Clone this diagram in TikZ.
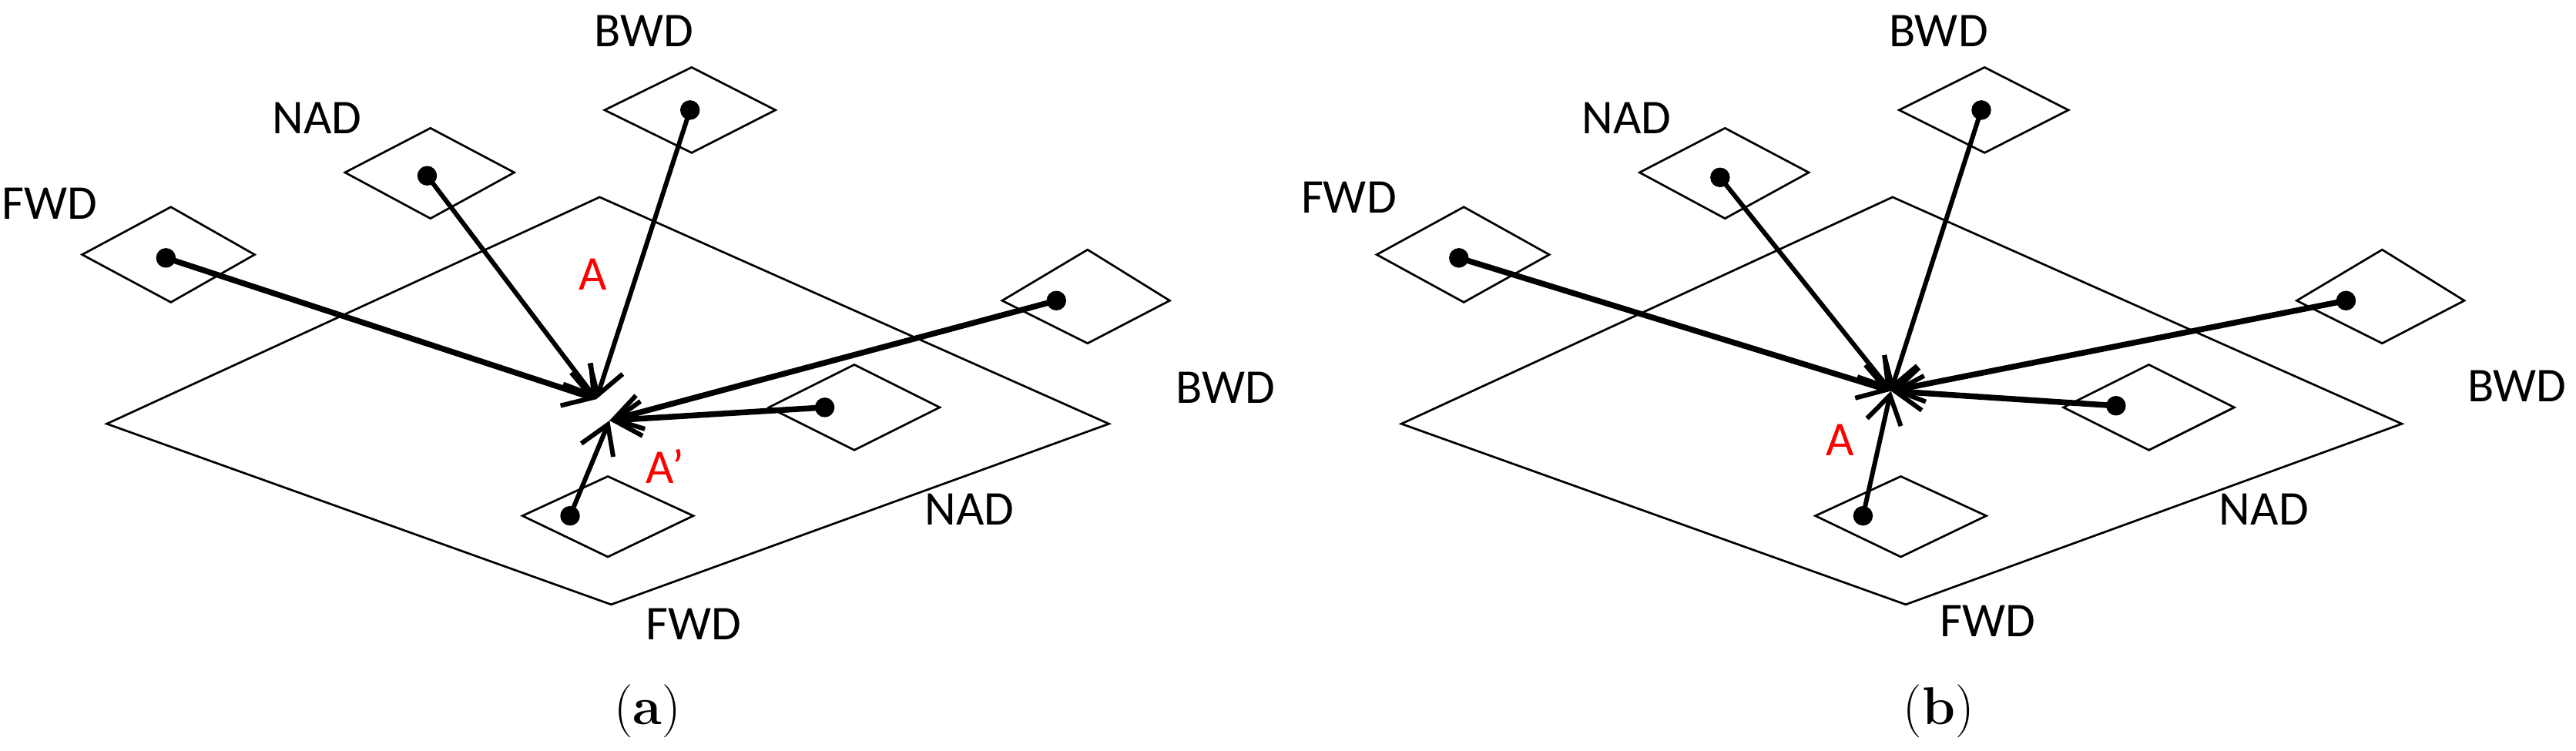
\documentclass[tikz,border=0pt]{standalone}
\usetikzlibrary{arrows.meta}
\usepackage{fontspec}
\setmainfont{Carlito}
\newfontfamily\capfont{Latin Modern Roman}
\begin{document}
\begin{tikzpicture}[x=0.05cm,y=-0.05cm,
  plane/.style={draw,line width=1.8pt},
  sq/.style={draw,line width=1.8pt},
  arr/.style={line width=5pt,-{Straight Barb[length=24pt,width=30pt,line width=4pt]}},
  dotn/.style={circle,fill,inner sep=0pt,minimum size=17pt},
  lbl/.style={font=\fontsize{42}{50}\selectfont},
  red lbl/.style={font=\fontsize{42}{50}\selectfont,text=red},
  captext/.style={font=\capfont\fontsize{46}{54}\selectfont}]
\useasboundingbox (0,0) rectangle (1568,457);
% ---------- panel a ----------
\draw[plane] (65,258) -- (365,120) -- (675,258) -- (372,368) -- cycle;
\draw[sq] (50,155) -- (104,126) -- (155,155) -- (104,184) -- cycle;
\draw[sq] (210,105) -- (262,78) -- (313,105) -- (262,133) -- cycle;
\draw[sq] (368,67) -- (421,41) -- (472,67) -- (421,93) -- cycle;
\draw[sq] (610,183) -- (662,152) -- (712,183) -- (662,209) -- cycle;
\draw[sq] (468,248) -- (520,222) -- (572,248) -- (520,274) -- cycle;
\draw[sq] (318,314) -- (370,290) -- (422,314) -- (370,339) -- cycle;
\node[dotn] (a1) at (101,157) {};
\node[dotn] (a2) at (260,107) {};
\node[dotn] (a3) at (420,67) {};
\node[dotn] (a4) at (643,183) {};
\node[dotn] (a5) at (502,248) {};
\node[dotn] (a6) at (347,314) {};
\coordinate (aA) at (363,243);
\coordinate (aB) at (371,256);
\draw[arr] (a1.center) -- (aA);
\draw[arr,line width=4pt] (a2.center) -- (aA);
\draw[arr,line width=4pt] (a3.center) -- (aA);
\draw[arr] (a4.center) -- (aB);
\draw[arr] (a5.center) -- (aB);
\draw[arr,line width=4pt] (a6.center) -- (aB);
\node[red lbl] (la) at (361,167) {A};
\node[red lbl] (lb) at (405,284) {A'};
\node[lbl] (t1) at (392,19) {BWD};
\node[lbl] (t2) at (193,72) {NAD};
\node[lbl] (t3) at (30,124) {FWD};
\node[lbl] (t4) at (746,236) {BWD};
\node[lbl] (t5) at (590,310) {NAD};
\node[lbl] (t6) at (422,380) {FWD};
\node[captext] (ca) at (394,433) {(\textbf{a})};
% ---------- panel b ----------
\draw[plane] (853,258) -- (1152,120) -- (1462,258) -- (1160,368) -- cycle;
\draw[sq] (838,155) -- (891,126) -- (943,155) -- (891,184) -- cycle;
\draw[sq] (998,105) -- (1050,78) -- (1101,105) -- (1050,133) -- cycle;
\draw[sq] (1156,67) -- (1208,41) -- (1259,67) -- (1208,93) -- cycle;
\draw[sq] (1398,183) -- (1450,152) -- (1500,183) -- (1450,209) -- cycle;
\draw[sq] (1256,248) -- (1308,222) -- (1360,248) -- (1308,274) -- cycle;
\draw[sq] (1105,314) -- (1157,290) -- (1209,314) -- (1157,339) -- cycle;
\node[dotn] (b1) at (888,157) {};
\node[dotn] (b2) at (1047,108) {};
\node[dotn] (b3) at (1206,67) {};
\node[dotn] (b4) at (1428,183) {};
\node[dotn] (b5) at (1288,247) {};
\node[dotn] (b6) at (1134,314) {};
\coordinate (bA) at (1151,238);
\draw[arr] (b1.center) -- (bA);
\draw[arr,line width=4pt] (b2.center) -- (bA);
\draw[arr,line width=4pt] (b3.center) -- (bA);
\draw[arr] (b4.center) -- (bA);
\draw[arr] (b5.center) -- (bA);
\draw[arr,line width=4pt] (b6.center) -- (bA);
\node[red lbl] (lc) at (1120,268) {A};
\node[lbl] (u1) at (1180,19) {BWD};
\node[lbl] (u2) at (990,72) {NAD};
\node[lbl] (u3) at (821,120) {FWD};
\node[lbl] (u4) at (1532,235) {BWD};
\node[lbl] (u5) at (1378,310) {NAD};
\node[lbl] (u6) at (1210,378) {FWD};
\node[captext] (cb) at (1180,433) {(\textbf{b})};
\end{tikzpicture}
\end{document}
